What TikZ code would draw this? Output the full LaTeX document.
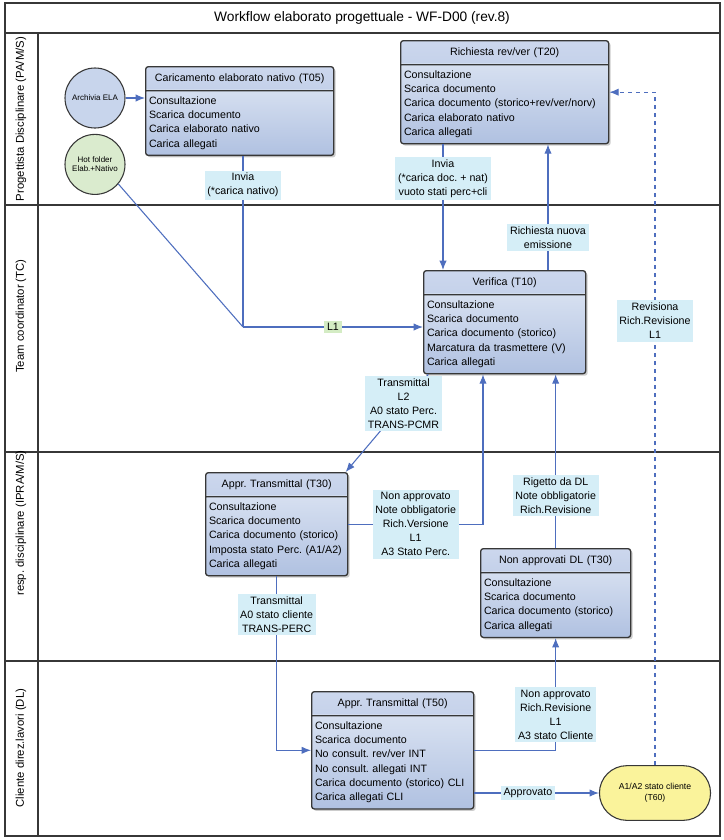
\documentclass[tikz,border=0pt]{standalone}
\usepackage{fontspec}
\setmainfont{Liberation Sans}
\frenchspacing
\usetikzlibrary{arrows.meta,positioning,shapes.multipart,shapes.misc,shadows}
\definecolor{flowblue}{RGB}{78,110,190}
\definecolor{frameg}{RGB}{55,55,55}
\definecolor{hdrtop}{RGB}{204,215,237}
\definecolor{hdrbot}{RGB}{172,190,224}
\definecolor{bodytop}{RGB}{226,233,245}
\definecolor{bodybot}{RGB}{176,193,225}
\definecolor{lblcyan}{RGB}{213,238,247}
\definecolor{lblgreen}{RGB}{212,236,196}
\definecolor{elablue}{RGB}{200,213,236}
\definecolor{hotgreen}{RGB}{218,235,206}
\definecolor{endyellow}{RGB}{250,243,155}
\newcommand{\taskhead}[1]{\makebox[\hsize]{\rule[-2.5pt]{0pt}{9pt}#1}}
\tikzset{
    flow/.style   = {-{Latex[length=7pt,width=5.5pt]}, draw=flowblue, line width=0.8pt},
    task/.style   = {rectangle split, rectangle split parts=2, draw=frameg, line width=1pt,
            rounded corners=2pt, top color=bodytop, bottom color=bodybot,
            path picture={\shade[top color=hdrtop, bottom color=hdrbot]
                (path picture bounding box.north west) rectangle
                ([yshift=-17pt]path picture bounding box.north east);},
            font=\fontsize{8}{10.7}\selectfont, align=left,
            inner xsep=2.5pt, inner ysep=4pt, anchor=north west,
            drop shadow={shadow xshift=1.5pt, shadow yshift=-1.5pt, opacity=0.4}},
    lbl/.style    = {fill=lblcyan, font=\fontsize{8}{10.5}\selectfont, align=center, inner sep=2pt},
    lblL/.style   = {lbl, fill=lblgreen},
    store/.style  = {circle, draw=frameg, thick, minimum size=45pt, inner sep=0pt,
            font=\fontsize{6}{7}\selectfont, align=center},
    finish/.style = {rounded rectangle, draw=frameg, thick, fill=endyellow,
            minimum width=90pt, minimum height=41pt,
            font=\fontsize{6.5}{8}\selectfont, align=center},
    lane/.style   = {draw=frameg, line width=1.1pt},
    laneTitle/.style = {rotate=90, font=\fontsize{8.5}{10}\selectfont},
}
\begin{document}
\begin{tikzpicture}[x=0.75pt, y=-0.75pt]
\useasboundingbox (0,0) rectangle (724,840);
% frame and lanes
\draw[lane] (5,3) rectangle (720,836);
\draw[lane] (5,33) -- (720,33);
\draw[lane] (38,33) -- (38,836);
\foreach \yy in {205,452,661}
    \draw[lane] (5,\yy) -- (720,\yy);
\node[font=\fontsize{10.3}{12}\selectfont] (title) at (362,18) {Workflow elaborato progettuale - WF-D00 (rev.8)};
\node[laneTitle] (lane1) at (21,119) {Progettista Disciplinare (PA/M/S)};
\node[laneTitle] (lane2) at (21,316) {Team coordinator (TC)};
\node[laneTitle] (lane3) at (21,523) {resp. disciplinare (IPRA/M/S)};
\node[laneTitle] (lane4) at (21,748) {Cliente direz.lavori (DL)};

% Nodes
\node[task, text width=136pt] (t05) at (145,66)
    {\taskhead{Caricamento elaborato nativo (T05)}\nodepart{two}Consultazione\\Scarica documento\\Carica elaborato nativo\\Carica allegati};
\node[store, fill=elablue] (ela) at (95,98) {Archivia ELA};
\node[store, fill=hotgreen, below=4pt of ela] (hot) {Hot folder\\Elab.+Nativo};
\node[task, text width=151pt] (t20) at (400,40)
    {\taskhead{Richiesta rev/ver (T20)}\nodepart{two}Consultazione\\Scarica documento\\Carica documento (storico+rev/ver/norv)\\Carica elaborato nativo\\Carica allegati};
\node[task, text width=116.5pt] (t10) at (423,270)
    {\taskhead{Verifica (T10)}\nodepart{two}Consultazione\\Scarica documento\\Carica documento (storico)\\Marcatura da trasmettere (V)\\Carica allegati};
\node[task, text width=101.5pt] (t30) at (205,472)
    {\taskhead{Appr. Transmittal (T30)}\nodepart{two}Consultazione\\Scarica documento\\Carica documento (storico)\\Imposta stato Perc. (A1/A2)\\Carica allegati};
\node[task, text width=107.5pt] (nadl) at (480,548)
    {\taskhead{Non approvati DL (T30)}\nodepart{two}Consultazione\\Scarica documento\\Carica documento (storico)\\Carica allegati};
\node[task, text width=116.5pt] (t50) at (311,691)
    {\taskhead{Appr. Transmittal (T50)}\nodepart{two}Consultazione\\Scarica documento\\No consult. rev/ver INT\\No consult. allegati INT\\Carica documento (storico) CLI\\Carica allegati CLI};
\node[finish] (t60) at (655,793) {A1/A2 stato cliente\\(T60)};

% Channels
\coordinate (jn) at (243,327);
\coordinate (chInvia) at (443,0);
\coordinate (chNew) at (548,0);
\coordinate (chBack) at (483,0);

% Arrows
\draw[flow] (ela.east) -- (ela.east -| t05.west);
\draw[flow, -] (hot.-40) -- (jn);
\draw[flow, -] (t05.south -| jn) -- node[lbl, pos=0.17]{Invia\\(*carica nativo)} (jn);
\draw[flow] (jn) -- node[lblL]{L1} (jn -| t10.west);
\draw[flow] (t20.south -| chInvia) -- node[lbl, pos=0.27]{Invia\\(*carica doc. + nat)\\vuoto stati perc+cli} (t10.north -| chInvia);
\draw[flow] (t10.north -| chNew) -- node[lbl, pos=0.26]{Richiesta nuova\\emissione} (t20.south -| chNew);
\draw[flow] ([xshift=4pt]t10.south west) -- node[lbl, pos=0.3]{Transmittal\\L2\\A0 stato Perc.\\TRANS-PCMR} ([xshift=-2pt]t30.north east);
\draw[flow] (t30.east) -- node[lbl]{Non approvato\\Note obbligatorie\\Rich.Versione\\L1\\A3 Stato Perc.} (t30.east -| chBack) -- (t10.south -| chBack);
\draw[flow] (nadl.north) -- node[lbl, pos=0.3]{Rigetto da DL\\Note obbligatorie\\Rich.Revisione} (nadl.north |- t10.south);
\draw[flow] (t30.south) |- node[lbl, pos=0.11]{Transmittal\\A0 stato cliente\\TRANS-PERC} (t50.west);
\draw[flow] (t50.east) -| node[lbl, pos=0.66]{Non approvato\\Rich.Revisione\\L1\\A3 stato Cliente} (nadl.south);
\draw[flow] (t60.west -| t50.east) -- node[lbl, pos=0.43]{Approvato} (t60.west);
\draw[flow, dashed] (t60.north) |- node[lbl, pos=0.33]{Revisiona\\Rich.Revisione\\L1} (t20.east);
\end{tikzpicture}
\end{document}
